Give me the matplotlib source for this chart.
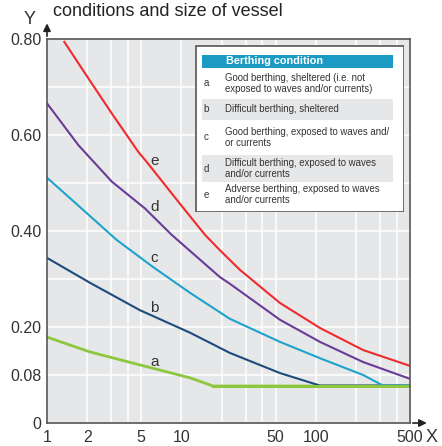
import matplotlib
matplotlib.use("Agg")
import matplotlib.pyplot as plt
from matplotlib.patches import Rectangle

plt.rcParams['font.family'] = ['Liberation Sans', 'DejaVu Sans']

# curve data (x = vessel size on log axis, y = position on the Y scale)
e_x = [1.345, 2.03, 3.03, 4.77, 5.51, 9.47, 14.95, 19.3, 27.2, 54, 107, 224, 500]
e_y = [0.794, 0.718, 0.645, 0.565, 0.544, 0.461, 0.392, 0.360, 0.319, 0.250, 0.198, 0.152, 0.119]

d_x = [1, 1.71, 3.03, 5.35, 8.45, 19.3, 22.9, 54, 107, 224, 500]
d_y = [0.666, 0.579, 0.503, 0.447, 0.392, 0.304, 0.290, 0.215, 0.169, 0.127, 0.092]

c_x = [1, 1.53, 3.31, 6.14, 11.6, 22.9, 54, 107, 224, 315, 500]
c_y = [0.511, 0.465, 0.381, 0.325, 0.271, 0.217, 0.169, 0.135, 0.100, 0.078, 0.078]

b_x = [1, 2.09, 4.91, 11.6, 22.9, 54, 107, 500]
b_y = [0.344, 0.292, 0.235, 0.188, 0.146, 0.104, 0.078, 0.078]

a_x = [1, 2.09, 4.91, 11.6, 17.2, 500]
a_y = [0.179, 0.148, 0.121, 0.094, 0.077, 0.077]

ytick_pos = [0, 0.1, 0.2, 0.4, 0.6, 0.8]
ytick_lab = ['0', '0.08', '0.20', '0.40', '0.60', '0.80']
xtick_pos = [1, 2, 5, 10, 50, 100, 500]
xtick_lab = ['1', '2', '5', '10', '50', '100', '500']
xgrid_minor = [3, 4, 20, 30, 40, 200, 300, 400]

legend_title = 'Berthing condition'
legend_keys = ['a', 'b', 'c', 'd', 'e']
legend_text = [
    'Good berthing, sheltered (i.e. not\nexposed to waves and/or currents)',
    'Difficult berthing, sheltered',
    'Good berthing, exposed to waves and/\nor currents',
    'Difficult berthing, exposed to waves\nand/or currents',
    'Adverse berthing, exposed to waves\nand/or currents',
]

col_a = '#8dc63f'
col_b = '#1d4b7c'
col_c = '#1ea3cc'
col_d = '#6a3b97'
col_e = '#ef2b2d'
bg = '#e6e7e9'
spine = '#555555'
narrow = ['Liberation Sans Narrow', 'Liberation Sans']

fig = plt.figure(figsize=(4.42, 4.46), dpi=100)
ax = fig.add_axes([47/442, 1-423/446, 363/442, 384/446])
ax.set_facecolor(bg)
ax.set_xscale('log')
ax.set_xlim(1, 500)
ax.set_ylim(0, 0.8)

ax.set_xticks(xtick_pos)
ax.set_xticklabels(xtick_lab)
ax.set_xticks(xgrid_minor, minor=True)
ax.xaxis.set_minor_formatter(plt.NullFormatter())
ax.set_yticks(ytick_pos)
ax.set_yticklabels(ytick_lab)
ax.set_yticks([0.3, 0.5, 0.7], minor=True)
ax.tick_params(which='both', length=0, labelsize=11.5, colors='#333333')
ax.tick_params(axis='x', pad=5)
ax.tick_params(axis='y', pad=4)
ax.grid(True, which='both', color='white', lw=1.1)
ax.set_axisbelow(True)
for s in ax.spines.values():
    s.set_color(spine)
    s.set_linewidth(1.2)

ax.plot(a_x, a_y, color=col_a, lw=2.0, solid_capstyle='butt')
ax.plot(b_x, b_y, color=col_b, lw=1.5)
ax.plot(c_x, c_y, color=col_c, lw=1.5)
ax.plot(d_x, d_y, color=col_d, lw=1.5)
ax.plot(e_x, e_y, color=col_e, lw=1.5)
# green flat part drawn over the merging ends
ax.plot(a_x[-2:], a_y[-2:], color=col_a, lw=2.2)

for k, yy in zip(['e', 'd', 'c', 'b', 'a'], [0.545, 0.450, 0.344, 0.240, 0.127]):
    ax.text(6.3, yy, k, fontsize=11, color='#333333', ha='center', va='center')

# axis arrows
ax.annotate('', xy=(0, 1.048), xytext=(0, 1.0), xycoords='axes fraction',
            arrowprops=dict(arrowstyle='-|>', color='#222222', lw=1.2, mutation_scale=11),
            annotation_clip=False)
ax.annotate('', xy=(1.054, 0), xytext=(1.0, 0), xycoords='axes fraction',
            arrowprops=dict(arrowstyle='-|>', color='#222222', lw=1.2, mutation_scale=11),
            annotation_clip=False)
fig.text(30/442, 1-19/446, 'Y', fontsize=13, ha='center', va='center', color='#333333')
fig.text(432/442, 1-438/446, 'X', fontsize=13, ha='center', va='center', color='#333333')
fig.text(53/442, 1-16/446, 'conditions and size of vessel', fontsize=13,
         ha='left', va='baseline', color='#222222')

# legend table
lg = fig.add_axes([195/442, 1-212/446, 209/442, 167/446])
lg.set_xlim(0, 209)
lg.set_ylim(167, 0)
lg.axis('off')
lg.add_patch(Rectangle((0.5, 0.5), 208, 166, facecolor='white', edgecolor=spine, lw=1.2))
lg.add_patch(Rectangle((7, 10), 191, 13, facecolor='#1b9bc4', edgecolor='none'))
lg.text(31, 16.5, legend_title, color='white', fontsize=7.8, fontweight='bold',
        ha='left', va='center', family=narrow)
rows = [(23, 54, 'white'), (54, 75, bg), (75, 110, 'white'), (110, 137, bg), (137, 162, 'white')]
for (y0, y1, fc), key, txt in zip(rows, legend_keys, legend_text):
    lg.add_patch(Rectangle((7, y0), 191, y1 - y0, facecolor=fc, edgecolor='none'))
    ym = (y0 + y1) / 2
    lg.text(11, ym, key, fontsize=7, color='#333333', ha='center', va='center',
            family=narrow)
    lg.text(30, ym, txt, fontsize=6.9, color='#333333', ha='left', va='center',
            linespacing=1.1, family=narrow)

fig.savefig('out.png', dpi=100)
